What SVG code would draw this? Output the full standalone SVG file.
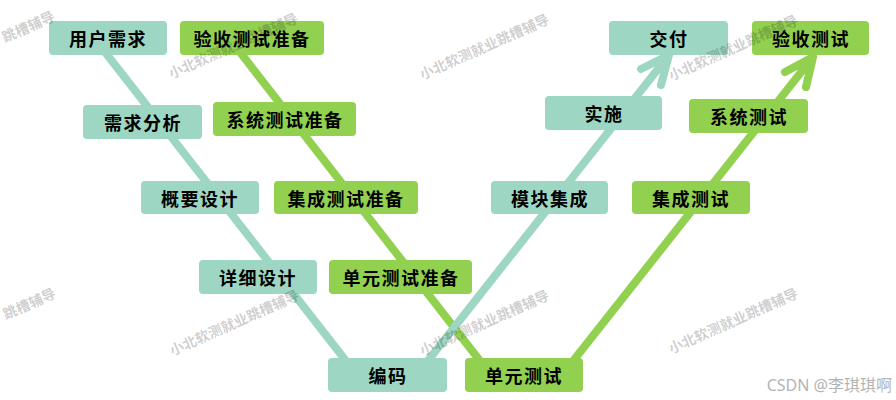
<svg xmlns="http://www.w3.org/2000/svg" width="896" height="400" viewBox="0 0 896 400">
<style>
.t rect{fill:#9dd6c2}
.g rect{fill:#92d050}
.node text{font-family:"Noto Sans CJK SC","Noto Sans",sans-serif;font-size:18px;font-weight:bold;fill:#000;text-anchor:middle;dominant-baseline:central;letter-spacing:1.5px}
.lt{stroke:#9dd6c2;stroke-width:8;fill:none;stroke-linecap:round;stroke-linejoin:round}
.lg{stroke:#92d050;stroke-width:8;fill:none;stroke-linecap:round;stroke-linejoin:round}
.wm{font-family:"Noto Sans CJK SC",sans-serif;font-size:14px;font-weight:bold;fill:#000;fill-opacity:0.2;text-anchor:middle;dominant-baseline:central}
</style>
<rect width="896" height="400" fill="#fff"/>
<g id="connectors">
<line class="lt" x1="94" y1="38" x2="357" y2="375"/>
<line class="lg" x1="229" y1="38" x2="491" y2="375"/>
<path class="lg" d="M562 375 L813 57 M785 72 L813 57 L806 87"/>
<path class="lt" d="M419 372 L669 55 M641 69 L669 55 L661 85"/>
</g>
<g id="n1" class="node t"><rect x="49" y="21" width="118" height="34" rx="4"/><text x="108" y="38">用户需求</text></g>
<g id="n2" class="node t"><rect x="83" y="105" width="119" height="34" rx="4"/><text x="143" y="122">需求分析</text></g>
<g id="n3" class="node t"><rect x="141" y="181" width="118" height="33" rx="4"/><text x="200" y="197.5">概要设计</text></g>
<g id="n4" class="node t"><rect x="199" y="260" width="118" height="34" rx="4"/><text x="258" y="277">详细设计</text></g>
<g id="n5" class="node t"><rect x="328" y="358" width="119" height="34" rx="4"/><text x="388" y="375">编码</text></g>
<g id="n6" class="node t"><rect x="491" y="181" width="117" height="33" rx="4"/><text x="550" y="197.5">模块集成</text></g>
<g id="n7" class="node t"><rect x="545" y="96" width="117" height="34" rx="4"/><text x="604" y="113">实施</text></g>
<g id="n8" class="node t"><rect x="609" y="21" width="119" height="34" rx="4"/><text x="669" y="38">交付</text></g>
<g id="n9" class="node g"><rect x="180" y="21" width="144" height="34" rx="4"/><text x="252" y="38">验收测试准备</text></g>
<g id="n10" class="node g"><rect x="213" y="102" width="143" height="34" rx="4"/><text x="285" y="119">系统测试准备</text></g>
<g id="n11" class="node g"><rect x="274" y="181" width="144" height="33" rx="4"/><text x="346" y="197.5">集成测试准备</text></g>
<g id="n12" class="node g"><rect x="329" y="260" width="143" height="34" rx="4"/><text x="401" y="277">单元测试准备</text></g>
<g id="n13" class="node g"><rect x="465" y="358" width="118" height="34" rx="4"/><text x="524" y="375">单元测试</text></g>
<g id="n14" class="node g"><rect x="632" y="181" width="118" height="33" rx="4"/><text x="691" y="197.5">集成测试</text></g>
<g id="n15" class="node g"><rect x="689" y="99" width="119" height="34" rx="4"/><text x="749" y="116">系统测试</text></g>
<g id="n16" class="node g"><rect x="752" y="21" width="117" height="34" rx="4"/><text x="811" y="38">验收测试</text></g>
<g id="watermarks">
<text class="wm" transform="translate(28 26) rotate(-24)">跳槽辅导</text>
<text class="wm" transform="translate(233 45) rotate(-24)">小北软测就业跳槽辅导</text>
<text class="wm" transform="translate(484 46) rotate(-24)">小北软测就业跳槽辅导</text>
<text class="wm" transform="translate(733 47) rotate(-24)">小北软测就业跳槽辅导</text>
<text class="wm" transform="translate(29 303) rotate(-24)">跳槽辅导</text>
<text class="wm" transform="translate(234 322) rotate(-24)">小北软测就业跳槽辅导</text>
<text class="wm" transform="translate(484 322) rotate(-24)">小北软测就业跳槽辅导</text>
<text class="wm" transform="translate(733 320) rotate(-24)">小北软测就业跳槽辅导</text>
<text x="892" y="391" font-family="'Noto Sans','Noto Sans CJK SC',sans-serif" font-size="16" fill="#b4b4b4" text-anchor="end">CSDN @李琪琪啊</text>
</g>
</svg>
